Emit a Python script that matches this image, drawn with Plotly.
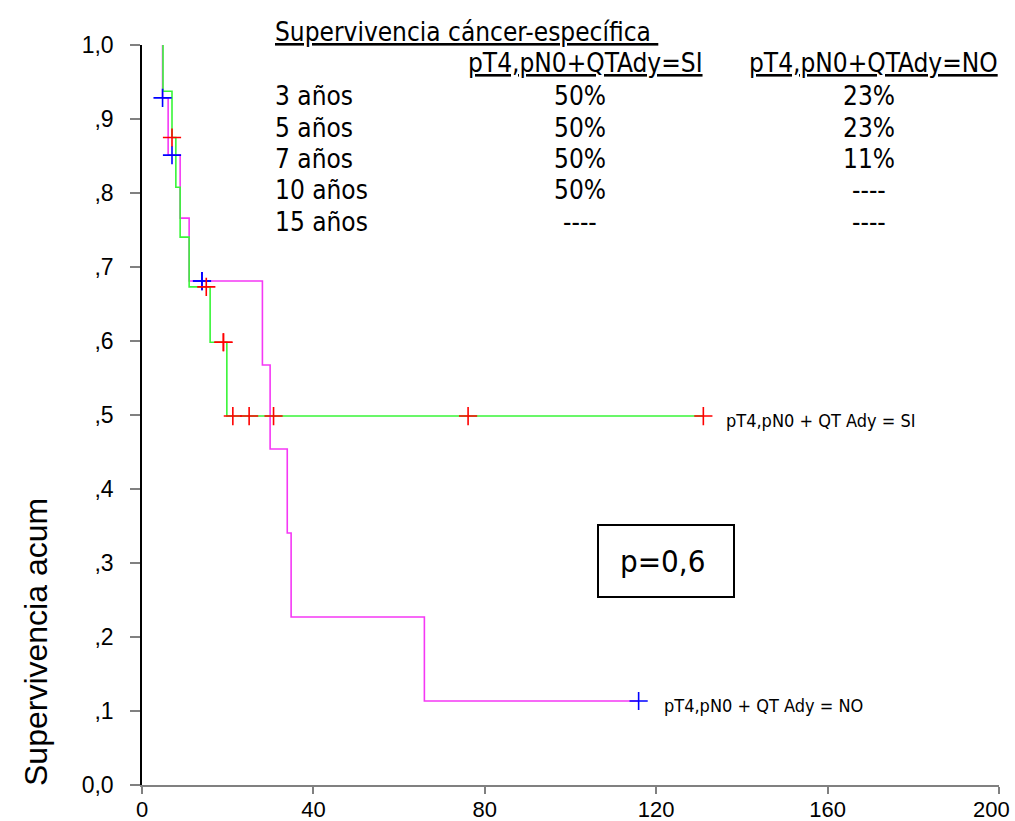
import plotly.graph_objects as go

# Kaplan-Meier steps (months, cumulative survival) for each group
si_event_t = [4.9, 7.0, 7.9, 8.9, 11.0, 15.9, 19.8]
si_event_s = [0.9375, 0.875, 0.8077, 0.7404, 0.6731, 0.5983, 0.4986]
si_cens_t = [7.0, 15.0, 19.0, 19.0, 21.2, 25.0, 30.7, 76.1, 131.0]
si_cens_s = [0.875, 0.6731, 0.5983, 0.5983, 0.4986, 0.4986, 0.4986, 0.4986, 0.4986]

no_event_t = [4.8, 6.1, 8.9, 11.0, 28.1, 29.9, 33.9, 34.8, 65.9]
no_event_s = [0.9286, 0.8512, 0.7661, 0.6810, 0.5675, 0.4540, 0.3405, 0.2270, 0.1135]
no_cens_t = [4.8, 7.0, 14.0, 14.0, 115.9]
no_cens_s = [0.9286, 0.8512, 0.6810, 0.6810, 0.1135]

y_ticks = [0.0, 0.1, 0.2, 0.3, 0.4, 0.5, 0.6, 0.7, 0.8, 0.9, 1.0]
y_ticktext = ["0,0", ",1", ",2", ",3", ",4", ",5", ",6", ",7", ",8", ",9", "1,0"]
x_ticks = [0, 40, 80, 120, 160, 200]
x_ticktext = ["0", "40", "80", "120", "160", "200"]

table_title = "Supervivencia cáncer-específica "
table_groups = ["pT4,pN0+QTAdy=SI", "pT4,pN0+QTAdy=NO"]
table_rows = ["3 años", "5 años", "7 años", "10 años", "15 años"]
table_si = ["50%", "50%", "50%", "50%", "----"]
table_no = ["23%", "23%", "11%", "----", "----"]

label_si = "pT4,pN0 + QT Ady = SI"
label_no = "pT4,pN0 + QT Ady = NO"
p_text = "p=0,6"

W, H = 1015, 821
ML, MR, MT, MB = 142, 16, 45, 36
PW, PH = W - ML - MR, H - MT - MB

GREEN = "#38f538"
PINK = "#f538f5"
ARIAL = "Liberation Sans, Arial, sans-serif"
TAHOMA = "DejaVu Sans Condensed, Liberation Sans Narrow, Noto Sans, sans-serif"


def px(xp):
    return (xp - ML) / PW


def py(yp):
    return (H - MB - yp) / PH


def step_curve(ev_t, ev_s, end_t):
    xs = [ev_t[0]] + list(ev_t) + [end_t]
    ys = [1.0] + list(ev_s) + [ev_s[-1]]
    return xs, ys


fig = go.Figure()

nx, ny = step_curve(no_event_t, no_event_s, max(no_cens_t))
fig.add_trace(go.Scatter(x=nx, y=ny, mode="lines", line=dict(color=PINK, width=1.6, shape="hv"),
                         hoverinfo="skip", showlegend=False))
sx, sy = step_curve(si_event_t, si_event_s, max(si_cens_t))
fig.add_trace(go.Scatter(x=sx, y=sy, mode="lines", line=dict(color=GREEN, width=1.6, shape="hv"),
                         hoverinfo="skip", showlegend=False))

fig.add_trace(go.Scatter(x=no_cens_t, y=no_cens_s, mode="markers", cliponaxis=False,
                         marker=dict(symbol="cross-thin", size=13, line=dict(color="#0000ff", width=1.6)),
                         showlegend=False))
fig.add_trace(go.Scatter(x=si_cens_t, y=si_cens_s, mode="markers", cliponaxis=False,
                         marker=dict(symbol="cross-thin", size=13, line=dict(color="#ff0000", width=1.6)),
                         showlegend=False))

ann = []
tfont = dict(family=TAHOMA, size=26, color="black")
ann.append(dict(x=px(273), y=py(32), text=table_title, xanchor="left", yanchor="middle",
                font=dict(tfont, lineposition="under")))
ann.append(dict(x=px(585), y=py(63), text=table_groups[0], xanchor="center", yanchor="middle",
                font=dict(tfont, lineposition="under")))
ann.append(dict(x=px(873), y=py(63), text=table_groups[1], xanchor="center", yanchor="middle",
                font=dict(tfont, lineposition="under")))
row_y = [96, 128, 159, 190, 222]
for lab, a, b, yy in zip(table_rows, table_si, table_no, row_y):
    ann.append(dict(x=px(273), y=py(yy), text=lab, xanchor="left", yanchor="middle", font=tfont))
    ann.append(dict(x=px(580), y=py(yy), text=a, xanchor="center", yanchor="middle", font=tfont))
    ann.append(dict(x=px(869), y=py(yy), text=b, xanchor="center", yanchor="middle", font=tfont))

lfont = dict(family=TAHOMA, size=18, color="black")
ann.append(dict(x=px(724), y=py(420), text=label_si, xanchor="left", yanchor="middle", font=lfont))
ann.append(dict(x=px(662), y=py(705), text=label_no, xanchor="left", yanchor="middle", font=lfont))
ann.append(dict(x=px(662), y=py(561), text=p_text, xanchor="center", yanchor="middle",
                font=dict(family=TAHOMA, size=31, color="black")))
ann.append(dict(x=px(36), y=py(642), text="Supervivencia acum", textangle=-90,
                xanchor="center", yanchor="middle", font=dict(family=ARIAL, size=32, color="black")))
for a in ann:
    a.update(xref="paper", yref="paper", showarrow=False)

# last x tick label is pulled inward so it stays inside the figure edge
ann.append(dict(x=x_ticks[-1], y=0, xref="x", yref="paper", text=x_ticktext[-1], showarrow=False,
                xanchor="right", yanchor="middle", xshift=13, yshift=-24,
                font=dict(family=ARIAL, size=22, color="black")))
x_ticktext_axis = x_ticktext[:-1] + [""]

fig.update_layout(
    width=W, height=H, autosize=False,
    margin=dict(l=ML, r=MR, t=MT, b=MB, pad=0, autoexpand=False),
    paper_bgcolor="white", plot_bgcolor="white",
    annotations=ann,
    shapes=[dict(type="rect", xref="paper", yref="paper", x0=px(598), x1=px(734), y0=py(597), y1=py(525),
                 line=dict(color="black", width=2))],
    xaxis=dict(range=[0, 200], tickvals=x_ticks, ticktext=x_ticktext_axis,
               showgrid=False, zeroline=False, automargin=False,
               showline=True, linecolor="#808080", linewidth=1.5,
               ticks="outside", ticklen=7, tickcolor="#808080", tickwidth=1.5,
               ticklabeloverflow="allow", ticklabelstandoff=-3,
               tickfont=dict(family=ARIAL, size=22, color="black")),
    yaxis=dict(range=[0, 1], tickvals=y_ticks, ticktext=y_ticktext, showgrid=False, zeroline=False,
               automargin=False,
               showline=True, linecolor="black", linewidth=1.5,
               ticks="outside", ticklen=10, tickcolor="#808080", tickwidth=1.5,
               ticklabelstandoff=12,
               tickfont=dict(family=ARIAL, size=23, color="black")),
)

fig.write_html("out.html")
